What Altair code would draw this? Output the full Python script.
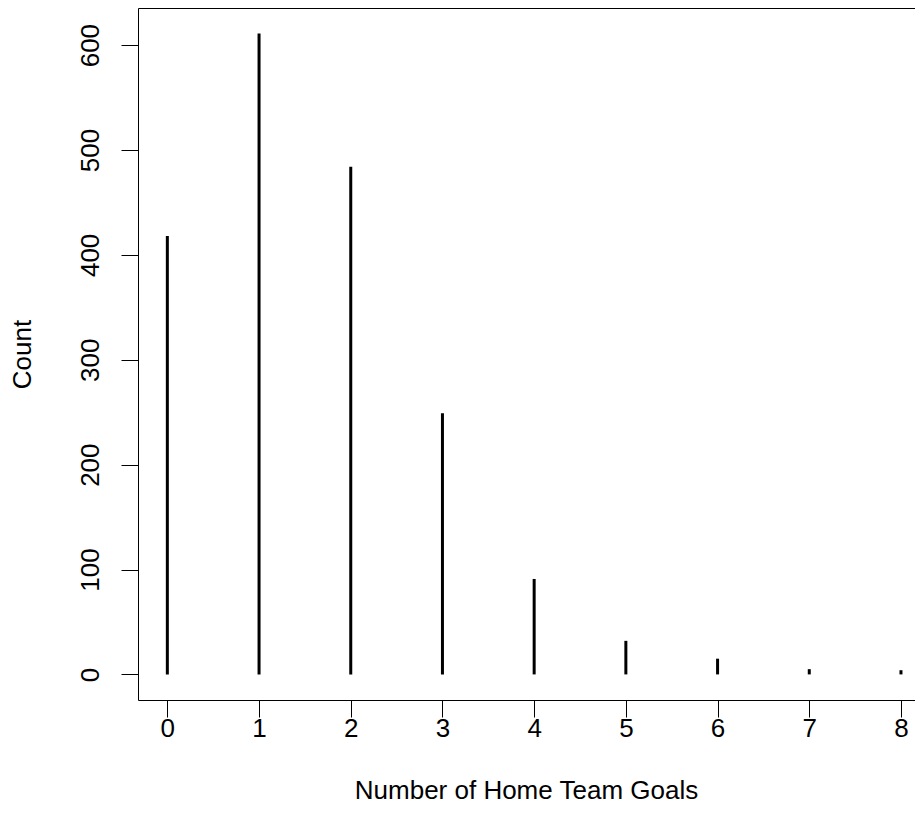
import altair as alt
import pandas as pd

# Data
goals = [0, 1, 2, 3, 4, 5, 6, 7, 8]
counts = [418, 611, 484, 249, 91, 32, 15, 5, 4]
y_ticks = [0, 100, 200, 300, 400, 500, 600]

df = pd.DataFrame({"goals": goals, "count": counts})

FONT = "Liberation Sans"
FS = 26
W, H = 777, 692

xscale = alt.Scale(domain=[-0.32, 8.153], nice=False, zero=False)
yscale = alt.Scale(domain=[-24.4, 635.4], nice=False, zero=False)

bars = alt.Chart(df).mark_rule(color="black", strokeWidth=3, strokeCap="butt").encode(
    x=alt.X(
        "goals:Q",
        scale=xscale,
        axis=alt.Axis(
            values=goals,
            title="Number of Home Team Goals",
            orient="bottom",
            tickSize=17,
            labelPadding=19,
            labelBaseline="alphabetic",
            labelFlush=False,
            titleX=388,
            titleY=98,
            titleBaseline="alphabetic",
            titleAlign="center",
        ),
    ),
    y=alt.Y(
        "count:Q",
        scale=yscale,
        axis=alt.Axis(
            values=y_ticks,
            title="Count",
            tickSize=17,
            labelAngle=-90,
            labelAlign="center",
            labelBaseline="alphabetic",
            labelPadding=23,
            labelFlush=False,
            titleAngle=-90,
            titleX=-116,
            titleY=H / 2,
            titleBaseline="middle",
            titleAlign="center",
        ),
    ),
    y2=alt.datum(0),
)

topframe = alt.Chart(df).mark_point(opacity=0).encode(
    x=alt.X(
        "goals:Q",
        scale=xscale,
        axis=alt.Axis(orient="top", labels=False, ticks=False, title=None),
    ),
)

chart = (
    alt.layer(bars, topframe)
    .resolve_scale(x="independent")
    .properties(
        width=W,
        height=H,
        autosize=alt.AutoSizeParams(type="none"),
        padding={"left": 130, "top": 0, "right": 0, "bottom": 120},
        background="white",
    )
    .configure_view(stroke=None)
    .configure_axis(
        grid=False,
        domainColor="black",
        domainWidth=1,
        tickColor="black",
        tickWidth=1,
        labelColor="black",
        titleColor="black",
        labelFont=FONT,
        titleFont=FONT,
        labelFontSize=FS,
        titleFontSize=FS,
        labelFontWeight="normal",
        titleFontWeight="normal",
    )
)

chart.save("out.html", embed_options={"renderer": "svg", "actions": False})
